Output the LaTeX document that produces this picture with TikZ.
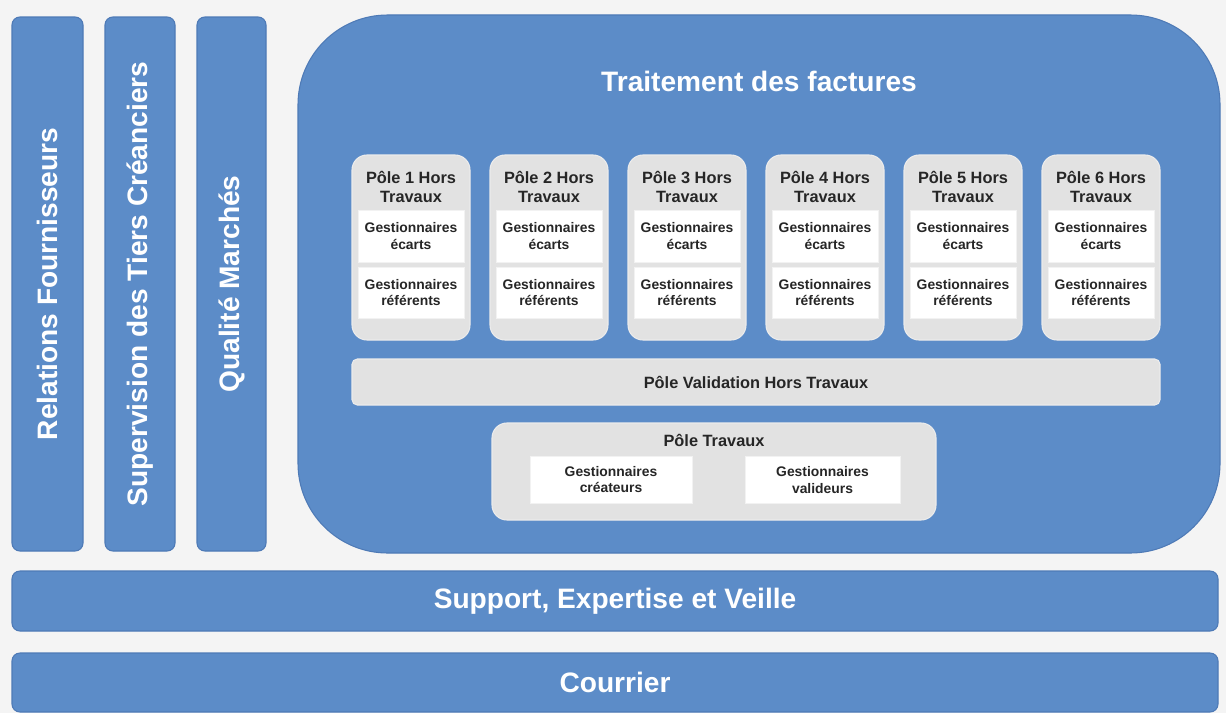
\documentclass[tikz,border=0pt]{standalone}
\usepackage{fontspec}
\setmainfont{Liberation Sans}
\usetikzlibrary{positioning}

\definecolor{orgblue}{RGB}{92,140,200}
\definecolor{orgedge}{RGB}{78,122,182}
\definecolor{polegray}{RGB}{226,226,226}
\definecolor{pagebg}{RGB}{244,244,244}

\tikzset{
  bluebox/.style={fill=orgblue, draw=orgedge, line width=0.6pt, text=white,
    rounded corners=4.5pt, font=\bfseries\fontsize{16}{18}\selectfont},
  sidecol/.style={bluebox, rotate=90, minimum width=10.68cm, minimum height=#1},
  floorbar/.style={bluebox, minimum width=24.12cm, minimum height=#1},
  graypole/.style={fill=polegray, draw=white!85!gray, line width=0.6pt,
    rounded corners=8.5pt, text=black!85, align=center,
    font=\bfseries\fontsize{9.3}{11.3}\selectfont},
  whitecell/.style={fill=white, draw=white!90!gray, line width=0.4pt,
    text=black!85, align=center, inner sep=1pt,
    font=\bfseries\fontsize{7.9}{9.6}\selectfont}
}

\begin{document}
\begin{tikzpicture}
  \fill[pagebg] (0,0) rectangle (24.52,-14.26);
  \useasboundingbox (0,0) rectangle (24.52,-14.26);

  % left columns
  \node[sidecol=1.42cm] (fourn) at (0.95,-5.68) {Relations Fournisseurs};
  \node[sidecol=1.40cm] (tiers) at (2.80,-5.68) {Supervision des Tiers Créanciers};
  \node[sidecol=1.38cm] (qual) at (4.63,-5.68) {Qualité Marchés};

  % invoice processing
  \node[bluebox, rounded corners=51pt, minimum width=18.44cm,
    minimum height=10.76cm] (factures) at (15.18,-5.68) {};
  \node[text=white, font=\bfseries\fontsize{16}{18}\selectfont]
    (titre) at (15.18,-1.62) {Traitement des factures};

  \foreach \i in {1,...,6}{
    \node[graypole, minimum width=2.36cm, minimum height=3.7cm]
      (pole\i) at ({8.22+2.76*(\i-1)},-4.95) {};
    \node[graypole, draw=none, fill=none] (nom\i)
      at ({8.22+2.76*(\i-1)},-3.74) {Pôle \i{} Hors\\Travaux};
    \node[whitecell, minimum width=2.12cm, minimum height=1.04cm]
      (ecarts\i) at ({8.22+2.76*(\i-1)},-4.72) {Gestionnaires\\écarts};
    \node[whitecell, minimum width=2.12cm, minimum height=1.02cm]
      (referents\i) at ({8.22+2.76*(\i-1)},-5.85) {Gestionnaires\\référents};
  }

  \node[graypole, rounded corners=3pt, minimum width=16.16cm,
    minimum height=0.92cm] (validation) at (15.12,-7.64)
    {Pôle Validation Hors Travaux};

  \node[graypole, minimum width=8.88cm, minimum height=1.94cm]
    (travaux) at (14.28,-9.43) {};
  \node[graypole, draw=none, fill=none] (nomtravaux) at (14.28,-8.8)
    {Pôle Travaux};
  \node[whitecell, minimum width=3.24cm, minimum height=0.94cm]
    (createurs) at (12.22,-9.59) {Gestionnaires\\créateurs};
  \node[whitecell, minimum width=3.1cm, minimum height=0.94cm]
    (valideurs) at (16.45,-9.6) {Gestionnaires\\valideurs};

  % bottom bars
  \node[floorbar=1.2cm] (support) at (12.3,-12.02) {Support, Expertise et Veille};
  \node[floorbar=1.18cm] (courrier) at (12.3,-13.65) {Courrier};
\end{tikzpicture}
\end{document}
